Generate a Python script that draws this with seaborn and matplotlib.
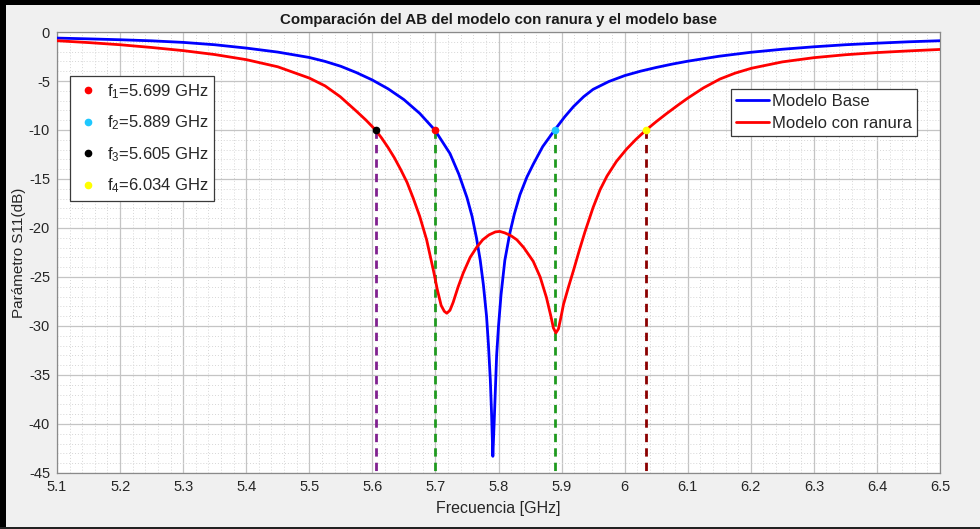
import matplotlib
matplotlib.use("Agg")
import matplotlib.pyplot as plt
import pandas as pd
import seaborn as sns
from matplotlib.lines import Line2D
from matplotlib.patches import Rectangle
from matplotlib.ticker import MultipleLocator

# S11 del modelo base
freq_base = [5.10, 5.15, 5.20, 5.25, 5.30, 5.35, 5.40, 5.45, 5.50, 5.525, 5.55, 5.575,
             5.60, 5.625, 5.65, 5.675, 5.699, 5.71, 5.723, 5.737, 5.750, 5.758, 5.765,
             5.771, 5.776, 5.781, 5.784, 5.787, 5.789, 5.791, 5.793, 5.795, 5.797, 5.800,
             5.804, 5.810, 5.818, 5.825, 5.834, 5.845, 5.855, 5.870, 5.889, 5.905, 5.919,
             5.935, 5.950, 5.975, 6.00, 6.025, 6.05, 6.075, 6.10, 6.15, 6.20, 6.25, 6.30,
             6.35, 6.40, 6.45, 6.50]
s11_base = [-0.62, -0.70, -0.79, -0.90, -1.06, -1.30, -1.64, -2.05, -2.60, -3.00, -3.50, -4.15,
            -4.90, -5.80, -6.90, -8.30, -10.0, -11.1, -12.4, -14.5, -16.9, -18.8, -21.0,
            -23.3, -25.8, -29.0, -31.9, -35.5, -39.0, -43.3, -40.0, -36.5, -33.0, -30.0,
            -26.8, -23.3, -20.5, -18.6, -16.6, -14.8, -13.5, -11.7, -10.0, -8.65, -7.6,
            -6.6, -5.85, -5.05, -4.45, -4.0, -3.62, -3.28, -2.98, -2.47, -2.07, -1.76, -1.51,
            -1.30, -1.14, -1.00, -0.89]

# S11 del modelo con ranura
freq_ranura = [5.10, 5.15, 5.20, 5.25, 5.30, 5.35, 5.40, 5.45, 5.50, 5.525, 5.549, 5.575,
               5.590, 5.605, 5.615, 5.625, 5.635, 5.645, 5.655, 5.665, 5.675, 5.686, 5.697,
               5.703, 5.709, 5.714, 5.718, 5.723, 5.728, 5.736, 5.744, 5.755, 5.765, 5.775,
               5.785, 5.795, 5.802, 5.810, 5.820, 5.829, 5.840, 5.855, 5.866, 5.876, 5.883,
               5.887, 5.891, 5.895, 5.899, 5.903, 5.911, 5.919, 5.928, 5.937, 5.950, 5.961,
               5.972, 5.987, 6.003, 6.018, 6.034, 6.05, 6.067, 6.085, 6.10, 6.125, 6.151,
               6.175, 6.201, 6.25, 6.30, 6.35, 6.40, 6.45, 6.50]
s11_ranura = [-0.89, -1.08, -1.30, -1.58, -1.90, -2.30, -2.82, -3.55, -4.70, -5.50, -6.60, -8.10,
              -9.0, -10.0, -10.85, -11.8, -12.85, -14.05, -15.35, -17.0, -18.8, -21.2, -24.4,
              -26.3, -27.9, -28.5, -28.7, -28.4, -27.6, -26.0, -24.6, -23.0, -22.0, -21.2,
              -20.7, -20.4, -20.35, -20.5, -20.8, -21.2, -22.0, -23.4, -25.0, -27.1, -29.0,
              -30.2, -30.7, -30.3, -29.1, -27.8, -26.0, -24.3, -22.3, -20.4, -17.9, -16.1,
              -14.7, -13.2, -11.95, -10.95, -10.0, -9.15, -8.3, -7.44, -6.75, -5.7, -4.8,
              -4.2, -3.7, -3.05, -2.62, -2.32, -2.10, -1.93, -1.78]

# Frecuencias de corte a -10 dB
marker_freqs = [5.699, 5.889, 5.605, 6.034]
marker_level = -10
marker_colors = ["#ff0000", "#1ec8ff", "#000000", "#ffff00"]
marker_labels = [r"$\mathregular{f_1}$=5.699 GHz", r"$\mathregular{f_2}$=5.889 GHz",
                 r"$\mathregular{f_3}$=5.605 GHz", r"$\mathregular{f_4}$=6.034 GHz"]

vline_freqs = [5.605, 5.699, 5.889, 6.034]
vline_colors = ["#80208f", "#1f9a1f", "#1f9a1f", "#8b0000"]

xtick_vals = [5.1, 5.2, 5.3, 5.4, 5.5, 5.6, 5.7, 5.8, 5.9, 6.0, 6.1, 6.2, 6.3, 6.4, 6.5]
xtick_labels = ["5.1", "5.2", "5.3", "5.4", "5.5", "5.6", "5.7", "5.8", "5.9", "6",
                "6.1", "6.2", "6.3", "6.4", "6.5"]
ytick_vals = [-45, -40, -35, -30, -25, -20, -15, -10, -5, 0]

sns.set_theme(style="white")
plt.rcParams["font.family"] = ["Liberation Sans", "DejaVu Sans"]
plt.rcParams["mathtext.default"] = "regular"

fig = plt.figure(figsize=(9.8, 5.29), dpi=100, facecolor="#f0f0f0")
ax = fig.add_axes([0.0582, 0.1059, 0.9010, 0.8336])
ax.set_facecolor("white")

df = pd.concat([
    pd.DataFrame({"freq": freq_base, "s11": s11_base, "modelo": "Modelo Base"}),
    pd.DataFrame({"freq": freq_ranura, "s11": s11_ranura, "modelo": "Modelo con ranura"}),
], ignore_index=True)

# líneas verticales discontinuas desde -10 dB hasta el fondo
for f, c in zip(vline_freqs, vline_colors):
    ax.plot([f, f], [marker_level, -45], ls=(0, (3, 2.2)), color=c, lw=2, zorder=3)

sns.lineplot(data=df, x="freq", y="s11", hue="modelo",
             palette={"Modelo Base": "#0000ff", "Modelo con ranura": "#ff0000"},
             estimator=None, sort=False, lw=2, ax=ax, legend=False, zorder=4)

for f, c in zip(marker_freqs, marker_colors):
    ax.plot([f], [marker_level], marker="o", ms=4.5, color=c, ls="", zorder=5)

ax.set_xlim(5.1, 6.5)
ax.set_ylim(-45, 0)
ax.set_xticks(xtick_vals)
ax.set_xticklabels(xtick_labels, fontsize=10.5)
ax.set_yticks(ytick_vals)
ax.set_yticklabels([str(v) for v in ytick_vals], fontsize=10.5)
ax.xaxis.set_minor_locator(MultipleLocator(0.02))
ax.yaxis.set_minor_locator(MultipleLocator(1))
ax.tick_params(which="both", direction="in", colors="#262626", labelcolor="#262626")
ax.tick_params(which="major", length=4, width=0.7, pad=5)
ax.tick_params(which="minor", length=2, width=0.5)

ax.grid(which="major", color="#c4c4c4", lw=0.9, ls="-")
ax.grid(which="minor", color="#d6d6d6", lw=0.7, ls=(0, (1, 2)))
ax.set_axisbelow(True)
for sp in ax.spines.values():
    sp.set_color("#8a8a8a")
    sp.set_linewidth(0.9)

ax.set_xlabel("Frecuencia [GHz]", fontsize=11.5, color="#262626", labelpad=5)
ax.set_ylabel("Parámetro S11(dB)", fontsize=11, color="#262626", labelpad=2)
ax.set_title("Comparación del AB del modelo con ranura y el modelo base",
             fontweight="bold", fontsize=10.8, color="#1a1a1a", pad=6)

# leyenda de frecuencias
pt_handles = [Line2D([], [], marker="o", ls="", ms=4.5, color=c) for c in marker_colors]
leg1 = ax.legend(pt_handles, marker_labels, loc="upper left", bbox_to_anchor=(0.0147, 0.900),
                 fontsize=12, frameon=True, fancybox=False, edgecolor="#3a3a3a",
                 framealpha=1, borderpad=0.35, labelspacing=0.77, handlelength=1.4,
                 handletextpad=0.45, borderaxespad=0)
leg1.get_frame().set_linewidth(0.9)
ax.add_artist(leg1)

ln_handles = [Line2D([], [], color="#0000ff", lw=2), Line2D([], [], color="#ff0000", lw=2)]
leg2 = ax.legend(ln_handles, ["Modelo Base", "Modelo con ranura"], loc="upper left",
                 bbox_to_anchor=(0.763, 0.871), fontsize=12, frameon=True, fancybox=False,
                 edgecolor="#3a3a3a", framealpha=1, borderpad=0.3, labelspacing=0.42,
                 handlelength=2.0, handletextpad=0.2, borderaxespad=0)
leg2.get_frame().set_linewidth(0.9)

# marco de la figura
fig.add_artist(Rectangle((0, 1 - 5 / 529), 1, 5 / 529, transform=fig.transFigure,
                         color="black", lw=0))
fig.add_artist(Rectangle((0, 0), 6 / 980, 1, transform=fig.transFigure, color="black", lw=0))
fig.add_artist(Rectangle((0, 0), 1, 2 / 529, transform=fig.transFigure, color="#222222", lw=0))

fig.savefig("out.png", dpi=100, facecolor=fig.get_facecolor())
